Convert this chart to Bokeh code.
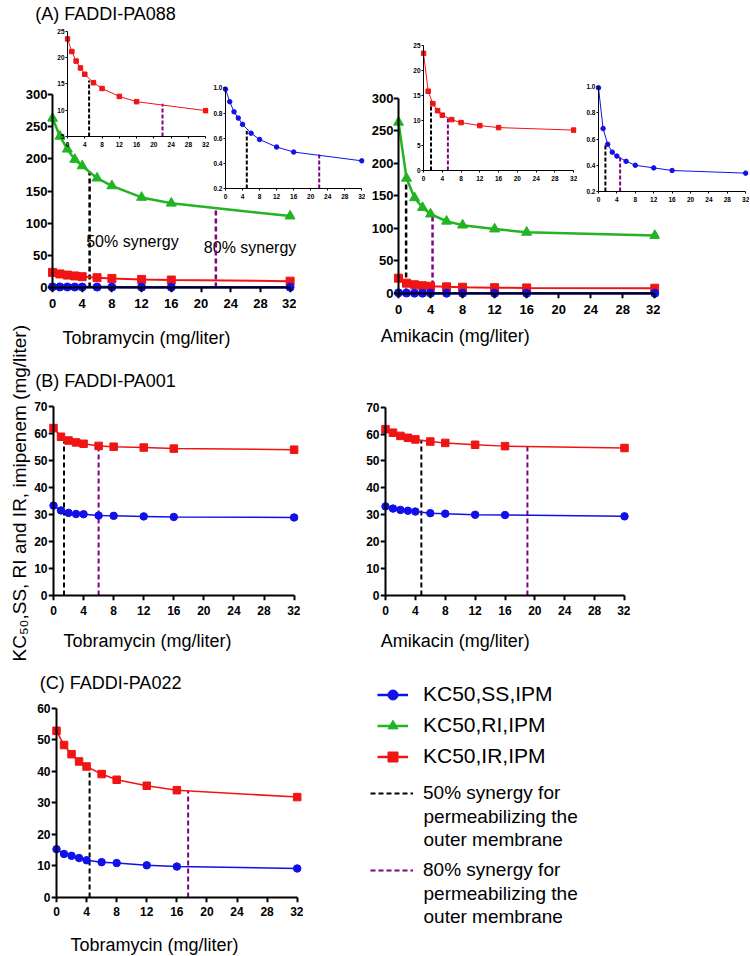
import math
from bokeh.plotting import figure
from bokeh.models import (Range1d, FixedTicker, Label, Legend, LegendItem, Column, LinearAxis,
                          NumeralTickFormatter)
from bokeh.embed import file_html
from bokeh.resources import INLINE
from bokeh.core.properties import value

# ---------------- data ----------------
conc = [0, 1, 2, 3, 4, 6, 8, 12, 16, 32]
x_ticks = [0, 4, 8, 12, 16, 20, 24, 28, 32]

# (A) FADDI-PA088 - tobramycin
a_tob_ss = [0.99, 0.89, 0.81, 0.76, 0.71, 0.64, 0.59, 0.53, 0.49, 0.42]
a_tob_ri = [263, 235, 215, 199, 189, 170, 158, 140, 131, 111]
a_tob_ir = [23.5, 21.1, 19.3, 18.0, 16.8, 15.2, 14.1, 12.6, 11.6, 9.9]
# (A) FADDI-PA088 - amikacin
a_amk_ss = [0.99, 0.68, 0.56, 0.50, 0.47, 0.43, 0.40, 0.38, 0.36, 0.34]
a_amk_ri = [263, 177, 147, 132, 122, 111, 105, 99, 94, 89]
a_amk_ir = [23.5, 15.9, 13.4, 12.0, 11.1, 10.2, 9.6, 9.0, 8.6, 8.1]
# (B) FADDI-PA001
b_tob_ss = [33.3, 31.5, 30.6, 30.2, 30.1, 29.6, 29.5, 29.3, 29.1, 28.9]
b_tob_ir = [62.0, 58.8, 57.4, 56.7, 56.2, 55.4, 55.1, 54.8, 54.4, 54.0]
b_amk_ss = [33.1, 32.3, 31.8, 31.5, 31.2, 30.6, 30.4, 30.0, 29.9, 29.4]
b_amk_ir = [61.8, 60.5, 59.3, 58.6, 58.0, 57.2, 56.7, 56.0, 55.5, 54.8]
# (C) FADDI-PA022
c_tob_ss = [15.3, 13.8, 13.2, 12.5, 11.8, 11.2, 10.9, 10.2, 9.8, 9.2]
c_tob_ir = [52.8, 48.3, 45.4, 43.1, 41.5, 39.1, 37.3, 35.4, 34.0, 31.8]

# synergy markers: [50%, 80%] concentration and curve value reached
a_tob_syn_x = [5.0, 22.0]
a_tob_syn_ri = [180, 123]
a_tob_syn_ir = [15.6, 11.2]
a_tob_syn_ss = [0.66, 0.475]
a_amk_syn_x_main = [0.95, 4.25]
a_amk_syn_ri = [168, 122]
a_amk_syn_x_ir = [1.6, 5.2]
a_amk_syn_ir = [14.0, 10.6]
a_amk_syn_x_ss = [1.5, 4.7]
a_amk_syn_ss = [0.55, 0.47]
b_tob_syn_x = [1.4, 6.0]
b_tob_syn_y = [57.0, 55.5]
b_amk_syn_x = [4.8, 19.0]
b_amk_syn_y = [57.5, 55.3]
c_tob_syn_x = [4.4, 17.5]
c_tob_syn_y = [41.0, 34.0]

a_main_yticks = [0, 50, 100, 150, 200, 250, 300]
b_yticks = [0, 10, 20, 30, 40, 50, 60, 70]
c_yticks = [0, 10, 20, 30, 40, 50, 60]
a_tob_ir_yticks = [5, 10, 15, 20, 25]
a_amk_ir_yticks = [0, 5, 10, 15, 20, 25]
a_ss_yticks = [0.2, 0.4, 0.6, 0.8, 1.0]

BLUE = "#1010e8"
RED = "#f01414"
GREEN = "#22b422"
PURPLE = "#800080"
BLACK = "#000000"
FONT = "Liberation Sans"
BL = 50   # common left border (a column aligns left/right borders)
BR = 1    # common right border

figs = []


def place(p, frame_left, frame_top, top_border):
    p.styles = {"position": "absolute",
                "left": f"{frame_left - BL:.1f}px",
                "top": f"{frame_top - top_border:.1f}px"}


def clean(p):
    p.grid.visible = False
    p.outline_line_color = None
    p.background_fill_alpha = 0
    p.border_fill_alpha = 0


def panel(x0, x32, ylo_px, yhi_px, ylo, yhi, yticks, pad, fs, tick_out, aw,
          xstand, ystand, bb=40, bt=4, yfmt=None):
    sx = (x32 - x0) / 32.0
    sy = (ylo_px - yhi_px) / float(yhi - ylo)
    fw = int(round(x32 - x0 + 2 * pad))
    fh = int(round(ylo_px - yhi_px + 2 * pad))
    xs = -pad / sx
    ys = ylo - pad / sy
    p = figure(frame_width=fw, frame_height=fh,
               x_range=Range1d(xs, xs + fw / sx), y_range=Range1d(ys, ys + fh / sy),
               min_border_left=BL, min_border_right=BR, min_border_top=bt, min_border_bottom=bb,
               output_backend="svg", toolbar_location=None)
    # axes carrying the tick labels (at the frame edge)
    for ax, ticks, st in ((p.xaxis[0], x_ticks, xstand), (p.yaxis[0], yticks, ystand)):
        ax.ticker = FixedTicker(ticks=ticks)
        ax.axis_line_color = None
        ax.major_tick_line_color = None
        ax.minor_tick_line_color = None
        ax.major_tick_out = 0
        ax.major_tick_in = 0
        ax.minor_tick_out = 0
        ax.minor_tick_in = 0
        ax.major_label_text_font = FONT
        ax.major_label_text_font_style = "bold"
        ax.major_label_text_font_size = fs
        ax.major_label_text_color = BLACK
        ax.major_label_standoff = st
    if yfmt:
        p.yaxis[0].formatter = NumeralTickFormatter(format=yfmt)
    # axes carrying the axis lines and ticks (at the data origin)
    lx = LinearAxis(fixed_location=ylo, bounds=(0, 32), ticker=FixedTicker(ticks=x_ticks),
                    major_label_overrides={t: "" for t in x_ticks})
    ly = LinearAxis(fixed_location=0, bounds=(ylo, yhi), ticker=FixedTicker(ticks=yticks),
                    major_label_overrides={t: "" for t in yticks})
    for ax in (lx, ly):
        ax.axis_line_width = aw
        ax.axis_line_color = BLACK
        ax.major_tick_line_width = aw
        ax.major_tick_line_color = BLACK
        ax.major_tick_out = tick_out
        ax.major_tick_in = 0
        ax.minor_tick_out = 0
        ax.minor_tick_in = 0
        ax.major_label_standoff = 0
        ax.major_label_text_font_size = "1px"
    p.add_layout(lx, "below")
    p.add_layout(ly, "left")
    clean(p)
    place(p, x0 - pad, yhi_px - pad, bt)
    return p


def series(p, y, color, marker, size, lw):
    p.line(conc, y, line_color=color, line_width=lw)
    p.scatter(conc, y, marker=marker, size=size, fill_color=color, line_color=color)


def syn(p, xs, tops, ylo, lw, dash):
    p.segment(x0=[xs[0]], y0=[ylo], x1=[xs[0]], y1=[tops[0]], line_color=BLACK, line_width=lw, line_dash=dash)
    p.segment(x0=[xs[1]], y0=[ylo], x1=[xs[1]], y1=[tops[1]], line_color=PURPLE, line_width=lw, line_dash=dash)


def plain(frame_left, frame_top, fw, fh):
    p = figure(frame_width=fw, frame_height=fh,
               x_range=Range1d(frame_left, frame_left + fw), y_range=Range1d(frame_top + fh, frame_top),
               x_axis_location=None, y_axis_location=None,
               min_border_left=BL, min_border_right=BR, min_border_top=0, min_border_bottom=0,
               output_backend="svg", toolbar_location=None)
    clean(p)
    place(p, frame_left, frame_top, 0)
    return p


def text(p, x, y, t, size, **kw):
    p.add_layout(Label(x=x, y=y, text=t, text_font=FONT, text_font_size=size,
                       text_baseline=kw.pop("baseline", "middle"), text_color=BLACK, **kw))


# ---------------- background (free texts, page coordinates) ----------------
bg = plain(0, 0, 749, 720)
text(bg, 38, 13, "(A) FADDI-PA088", "18px")
text(bg, 38, 380, "(B) FADDI-PA001", "18px")
text(bg, 43, 682, "(C) FADDI-PA022", "18px")
text(bg, 94, 241, "50% synergy", "16px")
text(bg, 223, 247, "80% synergy", "16px")
text(bg, 68, 337, "Tobramycin (mg/liter)", "18px")
text(bg, 417, 335, "Amikacin (mg/liter)", "18px")
text(bg, 69, 640, "Tobramycin (mg/liter)", "18px")
text(bg, 417, 640, "Amikacin (mg/liter)", "18px")
text(bg, 21, 661, "KC\u2085\u2080,SS, RI and IR, imipenem (mg/liter)", "19px",
     angle=math.pi / 2, text_align="left", baseline="alphabetic")
figs.append(bg)

bgc = plain(60, 931, 220, 24)
text(bgc, 70, 944, "Tobramycin (mg/liter)", "18px")
figs.append(bgc)

# ---------------- panel A ----------------
pA1 = panel(51.7, 289.3, 287.3, 94.3, 0, 300, a_main_yticks, 5, "13px", 5, 2, 6, 0)
syn(pA1, a_tob_syn_x, a_tob_syn_ri, 0, 2.5, "5 3")
series(pA1, a_tob_ri, GREEN, "triangle", 10, 2.5)
series(pA1, a_tob_ir, RED, "square", 8, 2)
series(pA1, a_tob_ss, BLUE, "circle", 8, 2.5)
figs.append(pA1)

pA2 = panel(397.7, 654, 293.3, 98, 0, 300, a_main_yticks, 5, "13px", 5, 2, 6, 0)
syn(pA2, a_amk_syn_x_main, a_amk_syn_ri, 0, 2.5, "5 3")
series(pA2, a_amk_ri, GREEN, "triangle", 10, 2.5)
series(pA2, a_amk_ir, RED, "square", 8, 2)
series(pA2, a_amk_ss, BLUE, "circle", 8, 2.5)
figs.append(pA2)

iA1r = panel(67.3, 205.5, 136.7, 31.2, 5, 25, a_tob_ir_yticks, 3, "6.5px", 2, 1, 2, 0, bb=20)
syn(iA1r, a_tob_syn_x, a_tob_syn_ir, 5, 2, "4 2")
series(iA1r, a_tob_ir, RED, "square", 4.5, 1)
figs.append(iA1r)

iA1b = panel(225, 361.3, 187.3, 86.7, 0.2, 1.0, a_ss_yticks, 3, "6.5px", 2, 1, 2, 0, bb=20, yfmt="0.0")
syn(iA1b, a_tob_syn_x, a_tob_syn_ss, 0.2, 2, "4 2")
series(iA1b, a_tob_ss, BLUE, "circle", 4.5, 1)
figs.append(iA1b)

iA2r = panel(422.8, 573, 169.2, 44.5, 0, 25, a_amk_ir_yticks, 3, "6.5px", 2, 1, 2, 0, bb=20)
syn(iA2r, a_amk_syn_x_ir, a_amk_syn_ir, 0, 2, "4 2")
series(iA2r, a_amk_ir, RED, "square", 4.5, 1)
figs.append(iA2r)

iA2b = panel(598.3, 745.5, 190.7, 85.7, 0.2, 1.0, a_ss_yticks, 3, "6.5px", 2, 1, 2, 0, bb=20, yfmt="0.0")
syn(iA2b, a_amk_syn_x_ss, a_amk_syn_ss, 0.2, 2, "4 2")
series(iA2b, a_amk_ss, BLUE, "circle", 4.5, 1)
figs.append(iA2b)

# ---------------- panel B ----------------
pB1 = panel(52.7, 293.3, 595, 406, 0, 70, b_yticks, 5, "12px", 5, 2, 5, 1)
syn(pB1, b_tob_syn_x, b_tob_syn_y, 0, 2, "5 3")
series(pB1, b_tob_ir, RED, "square", 7.5, 1.5)
series(pB1, b_tob_ss, BLUE, "circle", 7.5, 1.5)
figs.append(pB1)

pB2 = panel(385, 624, 595.7, 407.3, 0, 70, b_yticks, 5, "12px", 5, 2, 5, 1)
syn(pB2, b_amk_syn_x, b_amk_syn_y, 0, 2, "5 3")
series(pB2, b_amk_ir, RED, "square", 7.5, 1.5)
series(pB2, b_amk_ss, BLUE, "circle", 7.5, 1.5)
figs.append(pB2)

# ---------------- panel C ----------------
pC = panel(56, 296.7, 897.7, 708.3, 0, 60, c_yticks, 5, "12px", 5, 2, 4, 1, bb=26)
syn(pC, c_tob_syn_x, c_tob_syn_y, 0, 2, "5 3")
series(pC, c_tob_ir, RED, "square", 7.5, 1.5)
series(pC, c_tob_ss, BLUE, "circle", 7.5, 1.5)
figs.append(pC)

# ---------------- legends ----------------
lf1 = plain(377, 681.5, 300, 95)
items1 = []
for lab, col, mk, ys in [("KC50,SS,IPM", BLUE, "circle", c_tob_ss), ("KC50,RI,IPM", GREEN, "triangle", a_tob_ri),
                         ("KC50,IR,IPM", RED, "square", c_tob_ir)]:
    rl = lf1.line(conc, ys, line_color=col, line_width=2.5, visible=False)
    rs = lf1.scatter(conc, ys, marker=mk, size=10, fill_color=col, line_color=col, visible=False)
    items1.append(LegendItem(label=value(lab), renderers=[rl, rs]))
leg1 = Legend(items=items1, location="top_left", margin=0, padding=0, spacing=6,
              glyph_width=31, glyph_height=25, label_height=25, label_standoff=15,
              label_text_font=FONT, label_text_font_size="21px", label_text_color=BLACK,
              border_line_color=None, background_fill_alpha=0, inactive_fill_alpha=0)
lf1.add_layout(leg1)
figs.append(lf1)

lf2 = plain(370, 782, 300, 150)
items2 = []
for lab, col, xs, ys in [("50% synergy for", BLACK, c_tob_syn_x, c_tob_syn_y),
                         ("80% synergy for", PURPLE, c_tob_syn_x, c_tob_syn_y)]:
    rl = lf2.line(xs, ys, line_color=col, line_width=2, line_dash="5 3", visible=False)
    items2.append(LegendItem(label=value(lab), renderers=[rl]))
leg2 = Legend(items=items2, location="top_left", margin=0, padding=0, spacing=55,
              glyph_width=43, glyph_height=22, label_height=22, label_standoff=10,
              label_text_font=FONT, label_text_font_size="19px", label_text_color=BLACK,
              border_line_color=None, background_fill_alpha=0, inactive_fill_alpha=0)
lf2.add_layout(leg2)
for t, y in [("permeabilizing the", 816), ("outer membrane", 839),
             ("permeabilizing the", 893), ("outer membrane", 916)]:
    text(lf2, 423, y, t, "19px")
figs.append(lf2)

root = Column(children=figs, width=734, height=940)

with open("out.html", "w") as f:
    f.write(file_html(root, INLINE, title="KC50 synergy"))
